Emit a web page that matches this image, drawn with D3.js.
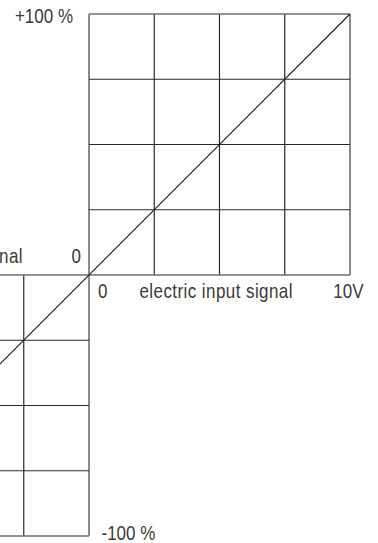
<!DOCTYPE html>
<html>
<head>
<meta charset="utf-8">
<script src="https://cdn.jsdelivr.net/npm/d3@7"></script>
<style>
    html, body { margin: 0; padding: 0; background: #fff; overflow: hidden; }
    text { font-family: "Liberation Sans", Arial, sans-serif; fill: #3a3a3a; }
</style>
</head>
<body>
<div id="chart"></div>
<script>
// grid divisions of the two quadrants
let xTicksPos = [0, 2.5, 5, 7.5, 10];        // V
let yTicksPos = [0, 25, 50, 75, 100];        // %
let xTicksNeg = [-10, -7.5, -5, -2.5, 0];
let yTicksNeg = [-100, -75, -50, -25, 0];

// characteristic line: input (V) -> output (%)
let lineX = [-10, 10];
let lineY = [-100, 100];

var width = 378, height = 543;

var svg = d3.select("#chart")
    .append("svg")
    .attr("width", width)
    .attr("height", height);

var x = d3.scaleLinear().domain([0, 10]).range([89, 350]);
var y = d3.scaleLinear().domain([0, 100]).range([275, 14]);

var gridColor = "#2a2a2a", frameColor = "#6e6e6e";

function drawQuadrant(xs, ys) {
    var x0 = d3.min(xs), x1 = d3.max(xs), y0 = d3.min(ys), y1 = d3.max(ys);
    // vertical lines
    svg.append("g").selectAll("line")
        .data(xs)
        .enter()
        .append("line")
        .attr("x1", d => x(d)).attr("x2", d => x(d))
        .attr("y1", y(y0)).attr("y2", y(y1))
        .attr("stroke", d => (d == x0 || d == x1) ? frameColor : gridColor)
        .attr("stroke-width", d => (d == x0 || d == x1) ? 1.6 : 1.2);
    // horizontal lines
    svg.append("g").selectAll("line")
        .data(ys)
        .enter()
        .append("line")
        .attr("y1", d => y(d)).attr("y2", d => y(d))
        .attr("x1", x(x0)).attr("x2", x(x1))
        .attr("stroke", d => (d == y0 || d == y1) ? frameColor : gridColor)
        .attr("stroke-width", d => (d == y0 || d == y1) ? 1.6 : 1.2);
}

drawQuadrant(xTicksPos, yTicksPos);
drawQuadrant(xTicksNeg, yTicksNeg);

svg.append("path")
    .datum(d3.zip(lineX, lineY))
    .attr("d", d3.line().x(d => x(d[0])).y(d => y(d[1])))
    .attr("fill", "none")
    .attr("stroke", "#1a1a1a")
    .attr("stroke-width", 1.1);

// condensed look: squeeze the glyphs horizontally
function label(t, px, py, anchor, spacing) {
    svg.append("text")
        .attr("transform", "translate(" + px + "," + py + ") scale(0.85,1)")
        .attr("text-anchor", anchor)
        .style("font-size", "20px")
        .style("letter-spacing", (spacing || 0) + "px")
        .text(t);
}

label("+100 %", 73, 22.5, "end");
label("0", 81, 262.5, "end");
label("output signal", 23, 262.5, "end", 0.5);
label("0", 98, 298, "start");
label("electric input signal", 139.5, 298, "start", 0.5);
label("10V", 363.5, 298, "end");
label("-100 %", 101.5, 540, "start");
</script>
</body>
</html>
